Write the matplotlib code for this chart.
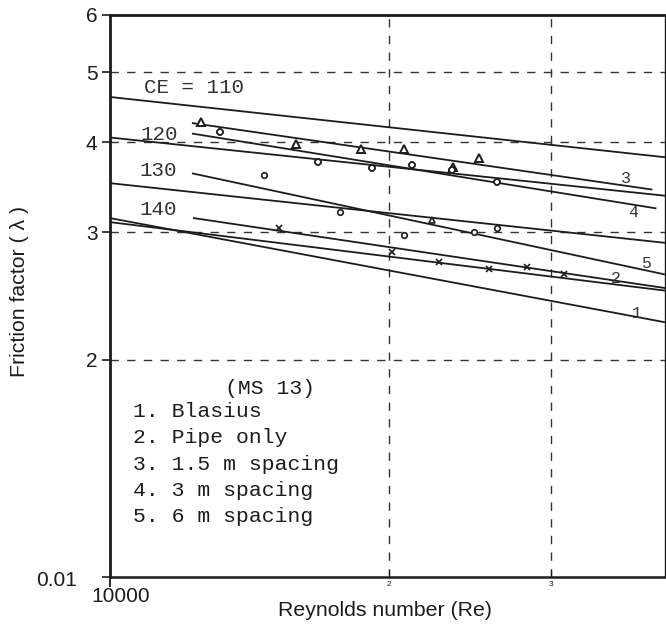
import matplotlib
matplotlib.use("Agg")
import matplotlib.pyplot as plt
from matplotlib.ticker import NullLocator

# reference CE lines, drawn across the whole range
ce_re = [10000, 40000]
ce_110 = [4.62, 3.81]
ce_120 = [4.06, 3.37]
ce_130 = [3.51, 2.90]
ce_140 = [3.10, 2.49]

# numbered lines 1..5
blasius_re = [10000, 40000]
blasius_f = [3.14, 2.25]
pipe_re = [12320, 40000]
pipe_f = [3.14, 2.51]
sp15_re = [12290, 38480]
sp15_f = [4.25, 3.44]
sp3_re = [12290, 38870]
sp3_f = [4.11, 3.24]
sp6_re = [12290, 40000]
sp6_f = [3.62, 2.62]

# measured points
pipe_pts_re = [15220, 20160, 22660, 25670, 28200, 30920]
pipe_pts_f = [3.04, 2.82, 2.73, 2.67, 2.69, 2.63]
sp15_pts_re = [12540, 15880, 18660, 20770, 23460, 25030]
sp15_pts_f = [4.27, 3.98, 3.92, 3.91, 3.70, 3.80]
sp3_pts_re = [13150, 16780, 19180, 21190, 23410, 26180]
sp3_pts_f = [4.13, 3.75, 3.68, 3.72, 3.66, 3.52]
sp6_pts_re = [14670, 17720, 20770, 24720, 26180]
sp6_pts_f = [3.60, 3.20, 2.98, 3.00, 3.04]
sp6_tri_re = [22270]
sp6_tri_f = [3.12]

ce_text = ['CE = 110', '120', '130', '140']
ce_text_re = [10880, 10800, 10750, 10750]
ce_text_f = [4.76, 4.10, 3.65, 3.23]

num_text = ['3', '4', '5', '2', '1']
num_text_re = [36070, 36720, 37920, 35190, 37080]
num_text_f = [3.56, 3.20, 2.72, 2.59, 2.32]

legend_lines = ['1. Blasius', '2. Pipe only', '3. 1.5 m spacing',
                '4. 3 m spacing', '5. 6 m spacing']

ink = '#1c1c1c'
mono = ['Liberation Mono', 'DejaVu Sans Mono']
sans = ['Liberation Sans', 'DejaVu Sans']

fig = plt.figure(figsize=(6.66, 6.31), dpi=100)
ax = fig.add_axes([110/666, 54/631, 555/666, 562/631])
ax.set_xscale('log')
ax.set_yscale('log')
ax.set_xlim(10000, 39800)
ax.set_ylim(1, 6)

# dashed grid
for v in [2, 3, 4, 5]:
    ax.axhline(v, color='#333333', lw=1.0, ls=(0, (6, 6)), zorder=1)
for v in [20000, 30000]:
    ax.axvline(v, color='#333333', lw=1.0, ls=(0, (6, 6)), zorder=1)

for f in [ce_110, ce_120, ce_130, ce_140]:
    ax.plot(ce_re, f, color=ink, lw=1.3)
ax.plot(blasius_re, blasius_f, color=ink, lw=1.3)
ax.plot(pipe_re, pipe_f, color=ink, lw=1.3)
ax.plot(sp15_re, sp15_f, color=ink, lw=1.3)
ax.plot(sp3_re, sp3_f, color=ink, lw=1.3)
ax.plot(sp6_re, sp6_f, color=ink, lw=1.3)

ax.plot(pipe_pts_re, pipe_pts_f, 'x', color=ink, ms=5, mew=1.2)
ax.plot(sp15_pts_re, sp15_pts_f, '^', mfc='white', mec=ink, ms=6, mew=1.4)
ax.plot(sp3_pts_re, sp3_pts_f, '8', mfc='white', mec=ink, ms=5, mew=1.3)
ax.plot(sp6_pts_re, sp6_pts_f, 'o', mfc='white', mec=ink, ms=4, mew=1.2)
ax.plot(sp6_tri_re, sp6_tri_f, '^', mfc='white', mec=ink, ms=5, mew=1.2)

for t, x, y in zip(ce_text, ce_text_re, ce_text_f):
    ax.text(x, y, t, family=mono, fontsize=15, color='#333333', va='center')
for t, x, y in zip(num_text, num_text_re, num_text_f):
    ax.text(x, y, t, family=mono, fontsize=12, color='#333333', ha='center', va='center')

ax.text(0.207, 0.336, '(MS 13)', transform=ax.transAxes, family=mono,
        fontsize=15.4, color=ink, va='center')
for i, t in enumerate(legend_lines):
    ax.text(0.041, 0.294 - i*0.0465, t, transform=ax.transAxes, family=mono,
            fontsize=15.4, color=ink, va='center')

# axes frame
ax.spines['left'].set_linewidth(2.0)
ax.spines['bottom'].set_linewidth(1.8)
ax.spines['top'].set_linewidth(2.0)
ax.spines['right'].set_linewidth(1.0)
for s in ax.spines.values():
    s.set_color(ink)

ax.set_yticks([1, 2, 3, 4, 5, 6])
ax.set_yticklabels(['', '2', '3', '4', '5', '6'], family=sans)
ax.yaxis.set_minor_locator(NullLocator())
ax.tick_params(axis='y', length=6, width=1.2, pad=3, labelsize=15, colors=ink)

ax.set_xticks([10000])
ax.set_xticklabels([''])
ax.set_xticks([20000, 30000], minor=True)
ax.set_xticklabels(['2', '3'], minor=True, family=sans)
ax.tick_params(axis='x', which='major', length=7, width=1.2, direction='out')
ax.tick_params(axis='x', which='minor', length=5, width=0.9, direction='in',
               pad=3, labelsize=6, colors=ink)

fig.text(77/666, 1 - 580/631, '0.01', family=sans, fontsize=15, color=ink,
         ha='right', va='center')
fig.text(121/666, 1 - 597/631, '10000', family=sans, fontsize=15, color=ink,
         ha='center', va='center')

fig.text(20/666, 1 - 291/631, 'Friction factor ( λ )', family=sans, fontsize=15.3,
         color=ink, rotation=90, ha='center', va='center')
fig.text(385/666, 1 - 610/631, 'Reynolds number (Re)', family=sans, fontsize=15.3,
         color=ink, ha='center', va='center')

fig.savefig('out.png', dpi=100)
